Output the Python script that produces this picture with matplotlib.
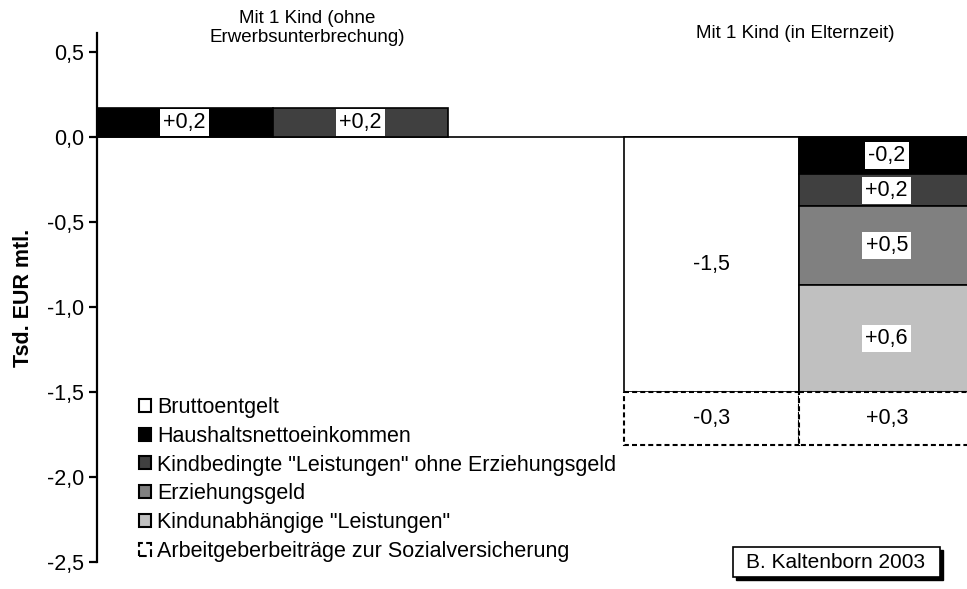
import matplotlib.pyplot as plt
from matplotlib.patches import Patch, Rectangle

plt.rcParams['font.family'] = ['Liberation Sans', 'DejaVu Sans']

# Spalten (1 und 2: ohne Erwerbsunterbrechung, 4 und 5: Elternzeit)
positions = [1, 2, 3, 4, 5]

# Tsd. EUR mtl., von oben nach unten gestapelt
brutto = [0, 0, 0, -1.5, 0]
netto = [0.17, 0, 0, 0, -0.22]
kindbedingt = [0, 0.17, 0, 0, -0.19]
erziehungsgeld = [0, 0, 0, 0, -0.46]
kindunabh = [0, 0, 0, 0, -0.63]
arbeitgeber = [0, 0, 0, -0.31, -0.31]

brutto_lbl = ['', '', '', '-1,5', '']
netto_lbl = ['+0,2', '', '', '', '-0,2']
kindbedingt_lbl = ['', '+0,2', '', '', '+0,2']
erziehungsgeld_lbl = ['', '', '', '', '+0,5']
kindunabh_lbl = ['', '', '', '', '+0,6']
arbeitgeber_lbl = ['', '', '', '-0,3', '+0,3']

names = ['Bruttoentgelt', 'Haushaltsnettoeinkommen',
         'Kindbedingte "Leistungen" ohne Erziehungsgeld', 'Erziehungsgeld',
         'Kindunabhängige "Leistungen"', 'Arbeitgeberbeiträge zur Sozialversicherung']
colors = ['white', 'black', '#404040', '#808080', '#c0c0c0', 'white']

yticks = [0.5, 0.0, -0.5, -1.0, -1.5, -2.0, -2.5]
ytick_lbl = ['0,5', '0,0', '-0,5', '-1,0', '-1,5', '-2,0', '-2,5']

series = [brutto, netto, kindbedingt, erziehungsgeld, kindunabh, arbeitgeber]
labels = [brutto_lbl, netto_lbl, kindbedingt_lbl, erziehungsgeld_lbl, kindunabh_lbl, arbeitgeber_lbl]

fs = 15.5
fig = plt.figure(figsize=(9.67, 5.89), dpi=100)
ax = fig.add_axes([97 / 967, 27 / 589, 870 / 967, 529 / 589])

ax.axhline(0, color='black', lw=1.2, zorder=1)

bottom = [0.0] * len(positions)
dash = (0, (2.4, 1.5))
for k, vals in enumerate(series):
    for i, v in enumerate(vals):
        if v == 0:
            continue
        ls = dash if k == 5 else '-'
        ax.bar(positions[i], v, bottom=bottom[i], width=1.0, color=colors[k],
               edgecolor='black', lw=1.5 if k == 5 else 1.2, linestyle=ls, zorder=2)
        if labels[k][i]:
            ax.text(positions[i], bottom[i] + v / 2, labels[k][i], ha='center', va='center',
                    fontsize=fs, zorder=4,
                    bbox=dict(boxstyle='square,pad=0.15', fc='white', ec='none'))
        bottom[i] += v

ax.set_xlim(0.5, 0.5 + 870 / 175.5)
ax.set_ylim(-2.5, 0.61)
ax.set_yticks(yticks)
ax.set_yticklabels(ytick_lbl, fontsize=fs)
ax.set_xticks([])
for s in ['top', 'right', 'bottom']:
    ax.spines[s].set_visible(False)
ax.spines['left'].set_linewidth(1.6)
ax.tick_params(axis='y', direction='out', length=6, width=1.6)
ax.set_ylabel('Tsd. EUR mtl.', fontsize=fs, fontweight='bold', labelpad=9)

ax.text(1.7, 0.64, 'Mit 1 Kind (ohne\nErwerbsunterbrechung)', ha='center', va='center',
        fontsize=13.5, linespacing=1.2, clip_on=False)
ax.text(4.48, 0.61, 'Mit 1 Kind (in Elternzeit)', ha='center', va='center',
        fontsize=13.5, clip_on=False)

handles = []
for k in range(len(names)):
    handles.append(Patch(facecolor=colors[k], edgecolor='black', lw=1.5,
                         linestyle='--' if k == 5 else '-', label=names[k]))
ax.legend(handles=handles, loc='upper left', bbox_to_anchor=(139 / 967, 1 - 397 / 589),
          bbox_transform=fig.transFigure, frameon=False, fontsize=fs,
          handlelength=0.55, handleheight=0.55, handletextpad=0.3,
          labelspacing=0.36, borderpad=0, borderaxespad=0)

# Quellenkasten mit Schatten
fig.add_artist(Rectangle((736 / 967, 1 - 580 / 589), 207 / 967, 30 / 589,
                         transform=fig.transFigure, fc='black', ec='black'))
fig.add_artist(Rectangle((733 / 967, 1 - 577 / 589), 207 / 967, 30 / 589,
                         transform=fig.transFigure, fc='white', ec='black', lw=1.2))
fig.text(836 / 967, 1 - 562 / 589, 'B. Kaltenborn 2003', ha='center', va='center', fontsize=15)

fig.savefig('out.png', dpi=100)
